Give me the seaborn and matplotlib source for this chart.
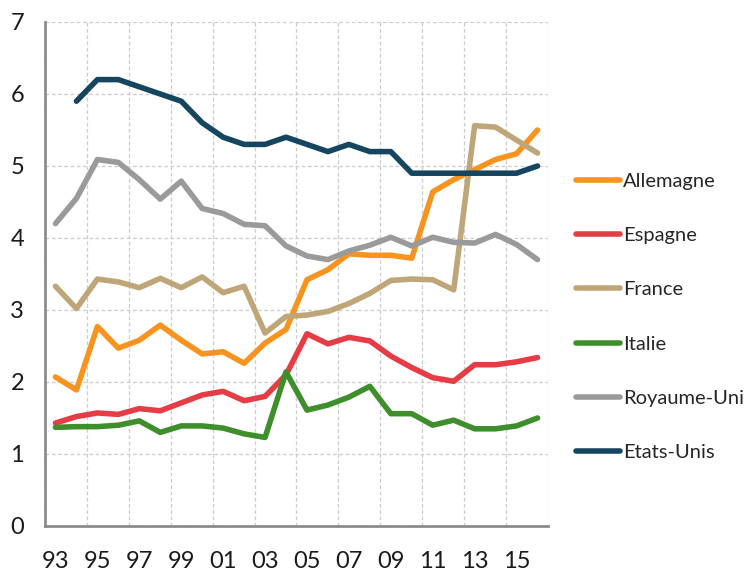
import matplotlib
matplotlib.use("Agg")
import matplotlib.pyplot as plt
import seaborn as sns
import numpy as np
import pandas as pd

years = list(range(1993, 2017))
allemagne = [2.07, 1.89, 2.77, 2.47, 2.58, 2.79, 2.58, 2.39, 2.42, 2.26, 2.54, 2.73,
             3.42, 3.56, 3.78, 3.76, 3.76, 3.72, 4.64, 4.81, 4.95, 5.09, 5.17, 5.50]
espagne = [1.43, 1.52, 1.57, 1.55, 1.63, 1.60, 1.71, 1.82, 1.87, 1.74, 1.80, 2.10,
           2.67, 2.53, 2.62, 2.57, 2.36, 2.20, 2.06, 2.01, 2.24, 2.24, 2.28, 2.34]
france = [3.33, 3.02, 3.43, 3.39, 3.31, 3.44, 3.31, 3.46, 3.24, 3.33, 2.68, 2.91,
          2.93, 2.98, 3.09, 3.23, 3.41, 3.43, 3.42, 3.28, 5.56, 5.54, 5.36, 5.18]
italie = [1.37, 1.38, 1.38, 1.40, 1.46, 1.30, 1.39, 1.39, 1.36, 1.28, 1.23, 2.14,
          1.61, 1.68, 1.79, 1.94, 1.56, 1.56, 1.40, 1.47, 1.35, 1.35, 1.39, 1.50]
royaume_uni = [4.20, 4.55, 5.09, 5.05, 4.81, 4.54, 4.79, 4.41, 4.34, 4.19, 4.17, 3.89,
               3.75, 3.70, 3.82, 3.90, 4.01, 3.89, 4.01, 3.94, 3.93, 4.05, 3.91, 3.70]
etats_unis = [np.nan, 5.9, 6.2, 6.2, 6.1, 6.0, 5.9, 5.6, 5.4, 5.3, 5.3, 5.4,
              5.3, 5.2, 5.3, 5.2, 5.2, 4.9, 4.9, 4.9, 4.9, 4.9, 4.9, 5.0]

series = {
    "Allemagne": allemagne,
    "Espagne": espagne,
    "France": france,
    "Italie": italie,
    "Royaume-Uni": royaume_uni,
    "Etats-Unis": etats_unis,
}
colors = ["#F7931E", "#E63C45", "#BFA678", "#3F8E2C", "#9A9A9A", "#164560"]
tick_labels = ["93", "95", "97", "99", "01", "03", "05", "07", "09", "11", "13", "15"]

rows = []
for name, vals in series.items():
    for i, v in enumerate(vals):
        rows.append({"idx": i, "pays": name, "valeur": v})
df = pd.DataFrame(rows).dropna()

sns.set_style("white")
plt.rcParams["font.family"] = ["Lato", "DejaVu Sans"]

fig = plt.figure(figsize=(7.49, 5.74), dpi=100)
ax = fig.add_axes([45 / 749, 48 / 574, 503 / 749, 504 / 574])

sns.lineplot(data=df, x="idx", y="valeur", hue="pays", hue_order=list(series.keys()),
             palette=colors, linewidth=4, ax=ax, legend=True)

n = len(years)
ax.set_xlim(-0.5, n - 0.5)
ax.set_ylim(0, 7)
ax.set_xticks(np.arange(-0.5, n, 2))
ax.set_xticklabels([])
ax.set_xticks(np.arange(0, n, 2), minor=True)
ax.set_xticklabels(tick_labels, minor=True)
ax.set_yticks(range(0, 8))
ax.set_xlabel("")
ax.set_ylabel("")

ax.grid(True, which="major", color="#cccccc", linestyle=(0, (3, 2)), linewidth=0.9)
ax.set_axisbelow(True)
for s in ["top", "right"]:
    ax.spines[s].set_visible(False)
for s in ["left", "bottom"]:
    ax.spines[s].set_color("#8c8c8c")
    ax.spines[s].set_linewidth(2)

ax.tick_params(axis="x", which="major", direction="out", length=6, width=1.5, color="#8c8c8c")
ax.tick_params(axis="x", which="minor", length=0, labelsize=17, pad=18, labelcolor="#1a1a1a")
ax.tick_params(axis="y", direction="out", length=5, width=1.5, color="#8c8c8c",
               labelsize=17, pad=10, labelcolor="#1a1a1a")

handles, labels = ax.get_legend_handles_labels()
ax.legend_.remove()
fig.legend(handles, labels, loc="center left", bbox_to_anchor=(576 / 749, 1 - 317 / 574),
           frameon=False, fontsize=14.5, labelspacing=1.85, handlelength=2.2,
           handletextpad=0.15, borderpad=0, borderaxespad=0)

fig.savefig("out.png", dpi=100)
